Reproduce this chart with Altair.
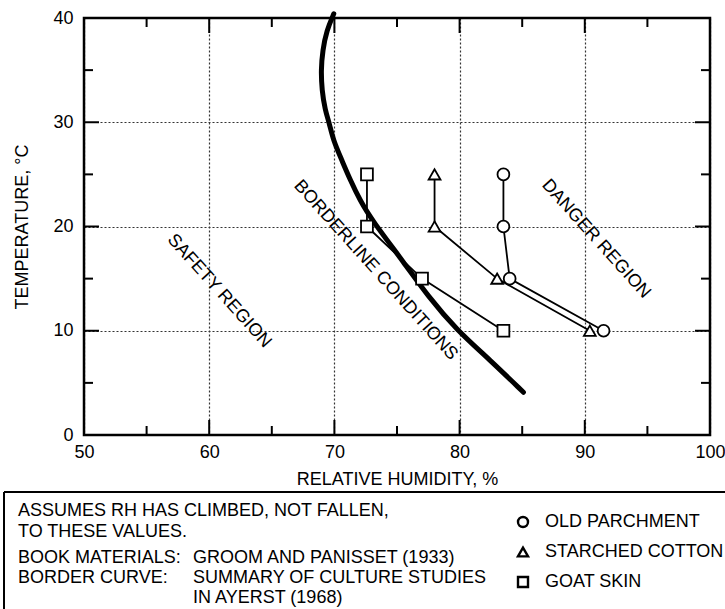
import altair as alt
import pandas as pd

FONT = "Liberation Sans"

# ---- data ----
curve_rh = [69.95, 69.38, 69.06, 68.93, 69.0, 69.25, 69.6, 69.9, 70.58, 71.25,
            72.05, 73.0, 75.6, 77.5, 79.77, 82.43, 85.1]
curve_t = [40.4, 38.8, 36.9, 35.0, 33.1, 31.2, 29.9, 28.3, 26.4, 24.5,
           22.5, 20.6, 16.47, 13.27, 10.07, 7.2, 4.1]

temps = [25, 20, 15, 10]
parchment_rh = [83.5, 83.5, 84.0, 91.5]
cotton_rh = [78.0, 78.0, 83.0, 90.4]
goat_rh = [72.6, 72.6, 77.0, 83.5]

materials = ["OLD PARCHMENT", "STARCHED COTTON", "GOAT SKIN"]
shapes = ["circle", "triangle-up", "square"]

x_major = [50, 60, 70, 80, 90, 100]
x_minor = [55, 65, 75, 85, 95]
y_major = [0, 10, 20, 30, 40]
y_minor = [5, 15, 25, 35]

region_labels = ["SAFETY REGION", "BORDERLINE CONDITIONS", "DANGER REGION"]
region_rh = [60.8, 73.3, 90.9]
region_t = [13.8, 15.8, 18.8]

note_col1 = ["ASSUMES RH HAS CLIMBED, NOT FALLEN,", "TO THESE VALUES.",
             "BOOK MATERIALS:", "BORDER CURVE:"]
note_col2 = ["GROOM AND PANISSET (1933)", "SUMMARY OF CULTURE STUDIES",
             "IN AYERST (1968)"]

# ---- tables ----
W, H = 626, 417
curve_df = pd.DataFrame({"rh": curve_rh, "t": curve_t, "o": list(range(len(curve_rh)))})
rows = []
for m, s, vals in zip(materials, shapes, [parchment_rh, cotton_rh, goat_rh]):
    for i, (v, t) in enumerate(zip(vals, temps)):
        rows.append({"material": m, "shape": s, "rh": v, "t": t, "o": i})
mat_df = pd.DataFrame(rows)

xs = alt.Scale(domain=[50, 100], nice=False, zero=False)
ys = alt.Scale(domain=[0, 40], nice=False, zero=False)

x_axis = alt.Axis(values=x_major, grid=True, ticks=False, domain=False,
                  title="RELATIVE HUMIDITY, %", labelPadding=8, titlePadding=9,
                  labelFlush=False)
y_axis = alt.Axis(values=y_major, grid=True, ticks=False, domain=False,
                  title="TEMPERATURE, °C", labelPadding=11, titlePadding=21,
                  labelFlush=False)

X = alt.X("rh:Q", scale=xs, axis=x_axis)
Y = alt.Y("t:Q", scale=ys, axis=y_axis)

frame = alt.Chart(pd.DataFrame({"a": [0]})).mark_rect(
    fill="white", fillOpacity=0, stroke="black", strokeWidth=2.5
).encode(x=alt.value(0), x2=alt.value(W), y=alt.value(0), y2=alt.value(H))

curve = alt.Chart(curve_df).mark_line(
    color="black", strokeWidth=5, interpolate="basis", strokeCap="round", clip=False
).encode(x=X, y=Y, order="o:Q")

mat_lines = alt.Chart(mat_df).mark_line(color="black", strokeWidth=1.8).encode(
    x=X, y=Y, detail="material:N", order="o:Q")

mat_pts = alt.Chart(mat_df).mark_point(
    filled=False, fill="white", fillOpacity=1, stroke="black", strokeWidth=1.8,
    size=140, opacity=1
).encode(
    x=X, y=Y,
    shape=alt.Shape("material:N", scale=alt.Scale(domain=materials, range=shapes), legend=None),
)

# inward ticks drawn from the axis scales
def tick_layer(vals, axis, length, side):
    if axis == "x":
        df = pd.DataFrame({"rh": vals})
        enc = dict(x=X)
        if side == "bottom":
            enc.update(y=alt.value(H), y2=alt.value(H - length))
        else:
            enc.update(y=alt.value(0), y2=alt.value(length))
    else:
        df = pd.DataFrame({"t": vals})
        enc = dict(y=Y)
        if side == "left":
            enc.update(x=alt.value(0), x2=alt.value(length))
        else:
            enc.update(x=alt.value(W), x2=alt.value(W - length))
    return alt.Chart(df).mark_rule(color="black", strokeWidth=2).encode(**enc)

ticks = [
    tick_layer(x_major, "x", 15, "bottom"), tick_layer(x_minor, "x", 9, "bottom"),
    tick_layer(x_major, "x", 15, "top"), tick_layer(x_minor, "x", 9, "top"),
    tick_layer(y_major, "y", 15, "left"), tick_layer(y_minor, "y", 9, "left"),
    tick_layer(y_major, "y", 15, "right"), tick_layer(y_minor, "y", 9, "right"),
]

regions = alt.Chart(pd.DataFrame({"label": region_labels, "rh": region_rh, "t": region_t})).mark_text(
    font=FONT, fontSize=18, angle=48, align="center", baseline="middle", color="black"
).encode(x=X, y=Y, text="label:N")

# note box below the plot
box_top = alt.Chart(pd.DataFrame({"a": [0]})).mark_rule(color="black", strokeWidth=2).encode(
    x=alt.value(-80), x2=alt.value(720), y=alt.value(474))
box_left = alt.Chart(pd.DataFrame({"a": [0]})).mark_rule(color="black", strokeWidth=2).encode(
    x=alt.value(-80), y=alt.value(474), y2=alt.value(620))

col1_y = [498, 519, 545, 565]
col2_y = [545, 565, 585]
notes = []
for txt, yy in zip(note_col1, col1_y):
    notes.append(alt.Chart(pd.DataFrame({"s": [txt]})).mark_text(
        font=FONT, fontSize=18, align="left", baseline="alphabetic", color="black"
    ).encode(text="s:N", x=alt.value(-66), y=alt.value(yy)))
for txt, yy in zip(note_col2, col2_y):
    notes.append(alt.Chart(pd.DataFrame({"s": [txt]})).mark_text(
        font=FONT, fontSize=18, align="left", baseline="alphabetic", color="black"
    ).encode(text="s:N", x=alt.value(109), y=alt.value(yy)))

leg_y = [504, 534, 564]
for m, s, yy in zip(materials, shapes, leg_y):
    notes.append(alt.Chart(pd.DataFrame({"s": [m]})).mark_point(
        shape=s, filled=False, stroke="black", strokeWidth=2.4, size=100, opacity=1
    ).encode(x=alt.value(439), y=alt.value(yy)))
    notes.append(alt.Chart(pd.DataFrame({"s": [m]})).mark_text(
        font=FONT, fontSize=18, align="left", baseline="middle", color="black"
    ).encode(text="s:N", x=alt.value(461), y=alt.value(yy)))

chart = alt.layer(
    frame, curve, mat_lines, mat_pts, *ticks, regions, box_top, box_left, *notes
).properties(
    width=W, height=H,
    background="white",
    autosize=alt.AutoSizeParams(type="none"),
    padding={"left": 84, "top": 18, "right": 15, "bottom": 174},
).configure_view(
    stroke=None
).configure_axis(
    labelFont=FONT, labelFontSize=18, labelColor="black",
    titleFont=FONT, titleFontSize=18, titleFontWeight="normal", titleColor="black",
    gridColor="#333", gridDash=[2, 2], gridWidth=1.2, gridOpacity=1,
)

chart.save("out.html", embed_options={"renderer": "svg", "actions": False})
